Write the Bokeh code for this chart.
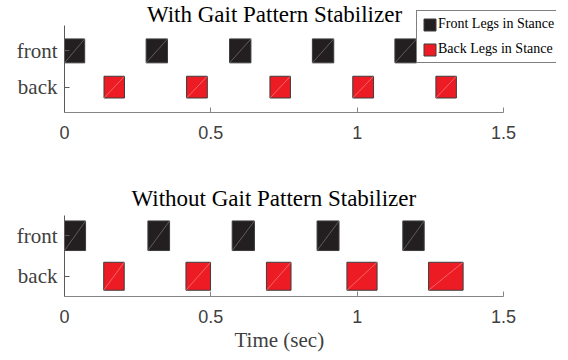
from bokeh.plotting import figure
from bokeh.models import (ColumnDataSource, FixedTicker, Label, Legend,
                          LegendItem, Range1d, Title)
from bokeh.layouts import column
from bokeh.embed import file_html
from bokeh.resources import INLINE

# ---------------- data ----------------
categories = ["front", "back"]
category_pos = [2, 1]
x_ticks = [0, 0.5, 1, 1.5]
x_tick_labels = ["0", "0.5", "1", "1.5"]

titles = ["With Gait Pattern Stabilizer", "Without Gait Pattern Stabilizer"]
legend_labels = ["Front Legs in Stance", "Back Legs in Stance"]
x_label = "Time (sec)"

# stance intervals (sec), with stabilizer
with_front_start = [0.0, 0.279, 0.564, 0.847, 1.129]
with_front_end = [0.069, 0.352, 0.637, 0.920, 1.203]
with_back_start = [0.135, 0.417, 0.702, 0.985, 1.269]
with_back_end = [0.205, 0.488, 0.772, 1.056, 1.339]

# stance intervals (sec), without stabilizer
without_front_start = [0.0, 0.285, 0.573, 0.863, 1.156]
without_front_end = [0.072, 0.359, 0.649, 0.938, 1.229]
without_back_start = [0.134, 0.415, 0.690, 0.965, 1.244]
without_back_end = [0.204, 0.499, 0.774, 1.068, 1.362]

# ---------------- style ----------------
FRONT_COLOR = "#231f20"
BACK_COLOR = "#ed1c24"
EDGE = "#3c3c3c"
XAXIS_COLOR = "#858585"
YAXIS_COLOR = "#5a5a5a"
TICK_TEXT = "#404040"
SERIF = "Liberation Serif"
SANS = "Liberation Sans"

X_END = 1.5 * 492 / 439   # frame continues to the right under the legend
PX_PER_UNIT_TOP = 87 / 2.4


def make_panel(fs, fe, bs, be, y_lo, y_axis_hi, y_frame_hi, h_front, h_back,
               top_border, frame_h, bottom_border):
    p = figure(output_backend="svg", toolbar_location=None,
               frame_width=492, frame_height=frame_h,
               min_border_left=64, min_border_right=12,
               min_border_top=top_border, min_border_bottom=bottom_border,
               x_range=Range1d(0, X_END), y_range=Range1d(y_lo, y_frame_hi),
               background_fill_color="white", border_fill_color="white")
    p.outline_line_color = None
    p.grid.visible = False

    y_front = category_pos[categories.index("front")]
    y_back = category_pos[categories.index("back")]

    src_f = ColumnDataSource(dict(left=fs, right=fe,
                                  bottom=[y_front - h_front / 2] * len(fs),
                                  top=[y_front + h_front / 2] * len(fs)))
    src_b = ColumnDataSource(dict(left=bs, right=be,
                                  bottom=[y_back - h_back / 2] * len(bs),
                                  top=[y_back + h_back / 2] * len(bs)))

    rf = p.quad(left="left", right="right", bottom="bottom", top="top",
                source=src_f, fill_color=FRONT_COLOR, line_color=EDGE,
                line_width=1)
    rb = p.quad(left="left", right="right", bottom="bottom", top="top",
                source=src_b, fill_color=BACK_COLOR, line_color=EDGE,
                line_width=1)
    # faint diagonal (patch triangulation artefact)
    p.segment(x0="left", y0="bottom", x1="right", y1="top", source=src_f,
              line_color="white", line_alpha=0.35, line_width=0.8)
    p.segment(x0="left", y0="bottom", x1="right", y1="top", source=src_b,
              line_color="white", line_alpha=0.4, line_width=0.8)

    # x axis
    xa = p.xaxis[0]
    xa.bounds = (x_ticks[0], x_ticks[-1])
    xa.ticker = FixedTicker(ticks=x_ticks)
    xa.major_label_overrides = {t: l for t, l in zip(x_ticks, x_tick_labels)}
    xa.major_tick_in = 5
    xa.major_tick_out = 0
    xa.minor_tick_in = 0
    xa.minor_tick_out = 0
    xa.axis_line_color = XAXIS_COLOR
    xa.major_tick_line_color = XAXIS_COLOR
    xa.major_label_text_font = SANS
    xa.major_label_text_font_size = "18px"
    xa.major_label_text_color = TICK_TEXT
    xa.major_label_standoff = 13

    # y axis
    ya = p.yaxis[0]
    ya.bounds = (y_lo, y_axis_hi)
    ya.ticker = FixedTicker(ticks=sorted(category_pos))
    ya.major_label_overrides = {c: n for c, n in zip(category_pos, categories)}
    ya.major_tick_in = 5
    ya.major_tick_out = 0
    ya.minor_tick_in = 0
    ya.minor_tick_out = 0
    ya.axis_line_color = YAXIS_COLOR
    ya.major_tick_line_color = YAXIS_COLOR
    ya.major_label_text_font = SERIF
    ya.major_label_text_font_size = "21px"
    ya.major_label_text_color = TICK_TEXT
    ya.major_label_standoff = 7
    return p, rf, rb


# ---- top panel: frame reaches the top edge so title & legend sit inside it
p1, rf1, rb1 = make_panel(with_front_start, with_front_end,
                          with_back_start, with_back_end,
                          0.3, 2.7, 2.7 + 25 / PX_PER_UNIT_TOP, 0.66, 0.60,
                          0, 112, 58)
p1.add_layout(Label(x=0.7175, y=2.7 + 11 / PX_PER_UNIT_TOP, text=titles[0],
                    text_font=SERIF, text_font_size="23px",
                    text_color="black", text_align="center",
                    text_baseline="alphabetic"))
legend = Legend(items=[LegendItem(label=legend_labels[0], renderers=[rf1]),
                       LegendItem(label=legend_labels[1], renderers=[rb1])],
                location=(352, 49),
                label_text_font=SERIF, label_text_font_size="14px",
                label_text_color="black",
                glyph_width=15, glyph_height=15, label_height=15,
                label_standoff=1, spacing=9, padding=5, margin=0,
                border_line_color="black", border_line_width=1,
                background_fill_color="white", background_fill_alpha=1)
p1.add_layout(legend, "center")

# ---- bottom panel
p2, _, _ = make_panel(without_front_start, without_front_end,
                      without_back_start, without_back_end,
                      0.5, 2.5, 2.5, 0.73, 0.69, 45, 81, 62)
p2.add_layout(Title(text=titles[1], align="left", offset=67, standoff=9,
                    vertical_align="bottom",
                    text_font=SERIF, text_font_size="23px",
                    text_font_style="normal", text_color="black"),
              "above")
p2.add_layout(Title(text=x_label, align="left", offset=170, standoff=0,
                    text_font=SERIF, text_font_size="21px",
                    text_font_style="normal", text_color=TICK_TEXT),
              "below")

layout = column(p1, p2, spacing=0)
open("out.html", "w").write(file_html(layout, INLINE))
